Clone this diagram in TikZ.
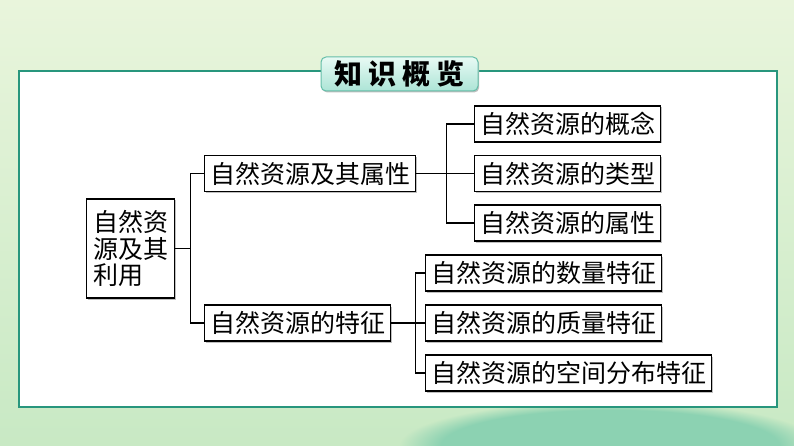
\documentclass[tikz,border=0pt]{standalone}
\usepackage{fontspec}
\newfontfamily\cjk{Noto Sans CJK SC}
\usetikzlibrary{shadows,fadings}
\definecolor{bgtop}{RGB}{233,245,220}
\definecolor{bgbot}{RGB}{200,233,196}
\definecolor{patchgreen}{RGB}{140,210,178}
\definecolor{framegreen}{RGB}{40,150,125}
\definecolor{titletop}{RGB}{232,250,244}
\definecolor{titlebot}{RGB}{172,228,214}
\definecolor{titleedge}{RGB}{100,190,168}
\tikzset{
    box/.style={
        draw=black, line width=1.3pt, fill=white, anchor=west,
        inner xsep=5.5pt, inner ysep=0pt, minimum height=36pt,
        font=\cjk\fontsize{25}{30}\selectfont,
        drop shadow={shadow xshift=1.5pt, shadow yshift=-1.5pt, fill=black!25, opacity=1}
    },
    link/.style={line width=1.3pt},
    titlebox/.style={
        draw=titleedge, line width=1pt, rounded corners=5pt,
        top color=titletop, bottom color=titlebot,
        minimum width=157pt, minimum height=34pt,
        font=\cjk\bfseries\fontsize{28}{30}\selectfont,
        drop shadow={shadow xshift=1.2pt, shadow yshift=-1.5pt, fill=black!25, opacity=1}
    }
}

\begin{document}
\begin{tikzpicture}[x=1pt,y=-1pt,line cap=butt,line join=miter]

% --- background ---
    \useasboundingbox (0,0) rectangle (794,446);
    \shade[top color=bgtop, bottom color=bgbot] (0,0) rectangle (794,446);
    \fill[patchgreen, path fading=circle with fuzzy edge 20 percent] (610,446) ellipse (210 and 45);

% frame
    \draw[framegreen, line width=2.4pt, fill=white] (19,71) rectangle (777,407);

% title
    \node[titlebox] (title) at (399.5,74) {知\hspace{6pt}识\hspace{6pt}概\hspace{6pt}览};

% boxes
    \node[box, minimum width=88pt, minimum height=99pt, inner xsep=4pt, align=left,
          font=\cjk\fontsize{25}{26.5}\selectfont] (root) at (86,248.5) {自然资\\源及其\\利用};
    \node[box] (attr) at (204,173.5) {自然资源及其属性};
    \node[box] (feat) at (204,323) {自然资源的特征};

    \node[box] (concept) at (474,124) {自然资源的概念};
    \node[box] (type)    at (474,173.5) {自然资源的类型};
    \node[box] (prop)    at (474,223) {自然资源的属性};

    \node[box] (quant) at (425,273) {自然资源的数量特征};
    \node[box] (qual)  at (425,323) {自然资源的质量特征};
    \node[box] (space) at (425,373) {自然资源的空间分布特征};

% connectors
    \draw[link] (root.east) -- ++(15,0) coordinate (rootfork) |- (attr.west);
    \draw[link] (rootfork) |- (feat.west);

    \draw[link] (attr.east) -- ++(30,0) coordinate (attrfork) |- (concept.west);
    \draw[link] (attrfork) -- (type.west);
    \draw[link] (attrfork) |- (prop.west);

    \draw[link] (feat.east) -- ++(24,0) coordinate (featfork) |- (quant.west);
    \draw[link] (featfork) -- (qual.west);
    \draw[link] (featfork) |- (space.west);

\end{tikzpicture}
\end{document}
